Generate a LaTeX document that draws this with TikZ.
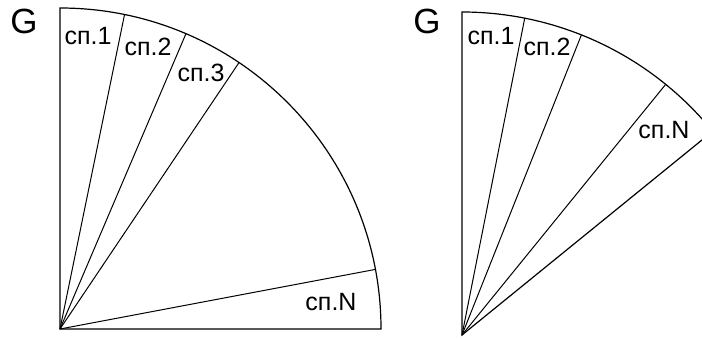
\documentclass[tikz,border=0pt]{standalone}
\usepackage{fontspec}
\setmainfont{Liberation Sans}
\usetikzlibrary{calc}
\definecolor{ink}{HTML}{000000}
\tikzset{
  ray/.style={draw=ink,line width=1pt},
  rim/.style={draw=ink,line width=1.2pt,line join=miter},
  splabel/.style={font=\fontsize{25}{25}\selectfont,text=ink,inner sep=0pt},
  glabel/.style={font=\fontsize{35}{35}\selectfont,text=ink,inner sep=0pt}
}

\begin{document}
\begin{tikzpicture}[x=1pt,y=1pt]
        \useasboundingbox (0,0) rectangle (702,338);
        \clip (0,0) rectangle (702,338);
        % left sector, full quarter
        \def\RL{321}
        \coordinate (lc) at (60,9);
        \draw[rim] (lc) -- ++(\RL,0) arc[start angle=0,end angle=90,radius=\RL] -- cycle;
        \foreach \n/\a in {1/78.4,2/66.9,3/56.1,N/10.7}{
          \coordinate (l\n) at ($(lc)+(\a:\RL)$);
          \draw[ray] (lc) -- (l\n);}
        \node[glabel] (lg) at (24,317) {G};
        \node[splabel] (ls1) at (88,302) {сп.1};
        \node[splabel] (ls2) at (148,291) {сп.2};
        \node[splabel] (ls3) at (201,265) {сп.3};
        \node[splabel] (lsN) at (331,36) {сп.N};
        % right sector, narrower
        \def\RR{323}
        \coordinate (rc) at (462,3);
        \draw[rim] (rc) -- ++(0,\RR) arc[start angle=90,end angle=39.1,radius=\RR] -- cycle;
        \foreach \n/\a in {1/78.8,2/68.3,N/50.9}{
          \coordinate (r\n) at ($(rc)+(\a:\RR)$);
          \draw[ray] (rc) -- (r\n);}
        \node[glabel] (rg) at (427,317) {G};
        \node[splabel] (rs1) at (491,302) {сп.1};
        \node[splabel] (rs2) at (547,291) {сп.2};
        \node[splabel] (rsN) at (664,208) {сп.N};
\end{tikzpicture}
\end{document}
